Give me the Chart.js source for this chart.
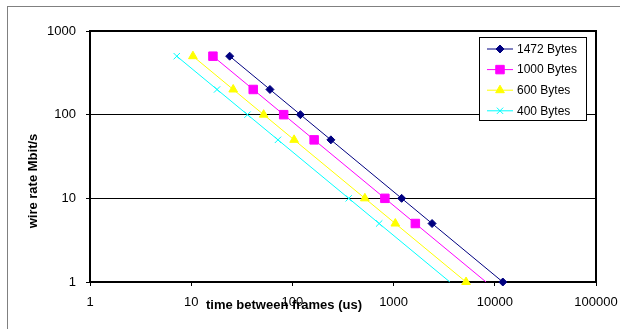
<!DOCTYPE html>
<html>
<head>
<meta charset="utf-8">
<script src="https://cdn.jsdelivr.net/npm/chart.js@4/dist/chart.umd.min.js"></script>
<style>
  html, body { margin: 0; padding: 0; background: #fff; overflow: hidden; }
  #wrap { position: relative; width: 620px; height: 329px; }
  #outer { position: absolute; left: 7px; top: 6px; width: 700px; height: 400px; border: 1px solid #808080; box-sizing: border-box; }
  canvas { position: absolute; left: 0; top: 0; }
</style>
</head>
<body>
<div id="wrap">
  <div id="outer"></div>
  <canvas id="c" width="620" height="329"></canvas>
</div>
<script>
// Data
const seriesNames = ['1472 Bytes', '1000 Bytes', '600 Bytes', '400 Bytes'];
const wireRate = [500, 200, 100, 50, 10, 5, 1];          // Mbit/s
const time1472 = [24, 60, 120, 240, 1200, 2400, 12000];   // us
const time1000 = [16.4, 41, 82, 164, 820, 1640, 8200];
const time600  = [10.4, 26, 52, 104, 520, 1040, 5200];
const time400  = [7.2, 18, 36, 72, 360, 720, 3600];
const xTicks = [1, 10, 100, 1000, 10000, 100000];
const yTicks = [1, 10, 100, 1000];
const xTitle = 'time between frames (us)';
const yTitle = 'wire rate Mbit/s';

const FONT = '"Liberation Sans", Arial, sans-serif';

function pts(times) { return times.map((t, i) => ({ x: t, y: wireRate[i] })); }

const styles = [
  { color: '#000080', style: 'rectRot', r: 4, hideLast: false },
  { color: '#FF00FF', style: 'rect', r: 6, hideLast: true },
  { color: '#FFFF00', style: 'triangle', r: 5, hideLast: false },
  { color: '#00FFFF', style: 'crossRot', r: 4.5, hideLast: true }
];
const allTimes = [time1472, time1000, time600, time400];

const datasets = seriesNames.map((name, k) => {
  const s = styles[k];
  return {
    label: name,
    data: pts(allTimes[k]),
    borderColor: s.color,
    backgroundColor: s.color,
    borderWidth: 1,
    pointStyle: s.style,
    pointRadius: (ctx) => (s.hideLast && ctx.dataIndex === wireRate.length - 1) ? 0 : s.r,
    pointBorderWidth: 1,
    pointHoverRadius: s.r,
    showLine: true,
    tension: 0,
    clip: false
  };
});

const framePlugin = {
  id: 'frame',
  beforeDatasetsDraw(chart) {
    const { ctx, chartArea: a } = chart;
    ctx.save();
    ctx.strokeStyle = '#000';
    ctx.lineWidth = 2;
    ctx.strokeRect(a.left, a.top, a.right - a.left, a.bottom - a.top);
    ctx.restore();
  },
  afterDraw(chart) {
    const { ctx } = chart;
    ctx.save();
    // axis titles
    ctx.fillStyle = '#000';
    ctx.font = 'bold 13px ' + FONT;
    ctx.textAlign = 'center';
    ctx.textBaseline = 'middle';
    ctx.fillText(xTitle, 284, 305);
    ctx.translate(33, 181);
    ctx.rotate(-Math.PI / 2);
    ctx.fillText(yTitle, 0, 0);
    ctx.restore();

    // legend
    ctx.save();
    const bx = 479.5, by = 37.5, bw = 107, bh = 83;
    ctx.fillStyle = '#fff';
    ctx.fillRect(bx, by, bw, bh);
    ctx.strokeStyle = '#000';
    ctx.lineWidth = 1;
    ctx.strokeRect(bx, by, bw, bh);
    ctx.font = '12px ' + FONT;
    ctx.textAlign = 'left';
    ctx.textBaseline = 'middle';
    chart.data.datasets.forEach((ds, i) => {
      const y = 49 + i * 20.6;
      ctx.strokeStyle = ds.borderColor;
      ctx.lineWidth = 1;
      ctx.beginPath();
      ctx.moveTo(487, y);
      ctx.lineTo(513, y);
      ctx.stroke();
      ctx.fillStyle = ds.backgroundColor;
      Chart.helpers.drawPoint(ctx, { pointStyle: ds.pointStyle, radius: styles[i].r, rotation: 0, borderWidth: 1 }, 500, y);
      ctx.fillStyle = '#000';
      ctx.fillText(ds.label, 517, y + 0.5);
    });
    ctx.restore();
  }
};

new Chart(document.getElementById('c'), {
  type: 'scatter',
  data: { datasets },
  options: {
    responsive: false,
    animation: false,
    events: [],
    layout: { padding: { left: 0, top: 31, right: 24, bottom: 0 } },
    plugins: { legend: { display: false }, tooltip: { enabled: false } },
    scales: {
      x: {
        type: 'logarithmic',
        min: 1, max: 100000,
        afterFit: (s) => { s.height = 47; s.paddingLeft = 0; s.paddingRight = 0; },
        afterBuildTicks: (s) => { s.ticks = xTicks.map(v => ({ value: v })); },
        border: { display: false },
        grid: { drawOnChartArea: false, drawTicks: true, tickLength: 4, color: '#000', lineWidth: 1 },
        ticks: {
          padding: 9,
          color: '#000',
          font: { family: FONT, size: 13 },
          maxRotation: 0,
          autoSkip: false,
          callback: (v) => String(v)
        },
        title: { display: false }
      },
      y: {
        type: 'logarithmic',
        min: 1, max: 1000,
        afterFit: (s) => { s.width = 90; s.paddingTop = 0; s.paddingBottom = 0; },
        afterBuildTicks: (s) => { s.ticks = yTicks.map(v => ({ value: v })); },
        border: { display: false },
        grid: { drawOnChartArea: true, drawTicks: true, tickLength: 4, color: '#000', lineWidth: 1 },
        ticks: {
          padding: 10,
          color: '#000',
          font: { family: FONT, size: 13 },
          autoSkip: false,
          callback: (v) => String(v)
        },
        title: { display: false }
      }
    }
  },
  plugins: [framePlugin]
});
</script>
</body>
</html>
